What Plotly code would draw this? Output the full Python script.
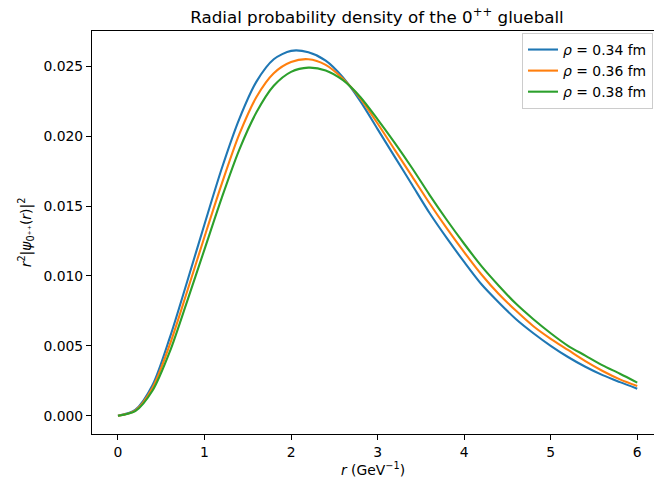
import plotly.graph_objects as go

r_values = [0.0, 0.2, 0.4, 0.6, 0.8, 1.0, 1.2, 1.4, 1.6, 1.8, 2.0, 2.2, 2.4, 2.6, 2.8, 3.0,
            3.2, 3.4, 3.6, 3.8, 4.0, 4.2, 4.4, 4.6, 4.8, 5.0, 5.2, 5.4, 5.6, 5.8, 6.0]

density_034 = [0.0, 0.00042, 0.0022, 0.0056, 0.0096, 0.0137, 0.0177, 0.0212, 0.0239, 0.0255,
               0.0261, 0.0260, 0.0254, 0.0242, 0.0225, 0.0205, 0.0185, 0.0165, 0.0145, 0.0127,
               0.0110, 0.0094, 0.0081, 0.0069, 0.0059, 0.0050, 0.0042, 0.0035, 0.0029, 0.0024,
               0.00193]
density_036 = [0.0, 0.00037, 0.0020, 0.0051, 0.0089, 0.0128, 0.0166, 0.0201, 0.0228, 0.0245,
               0.0253, 0.0255, 0.0251, 0.0241, 0.0227, 0.0209, 0.0190, 0.0171, 0.0152, 0.0134,
               0.0117, 0.0101, 0.0087, 0.0075, 0.0064, 0.0055, 0.0047, 0.0039, 0.0032, 0.0026,
               0.00213]
density_038 = [0.0, 0.00032, 0.0018, 0.0046, 0.0082, 0.0119, 0.0156, 0.0190, 0.0217, 0.0236,
               0.0246, 0.0249, 0.0247, 0.0240, 0.0228, 0.0212, 0.0195, 0.0177, 0.0158, 0.0140,
               0.0123, 0.0107, 0.0093, 0.0080, 0.0069, 0.0059, 0.0050, 0.0043, 0.0036, 0.0030,
               0.00237]

series_labels = ["<i>ρ</i> = 0.34 fm", "<i>ρ</i> = 0.36 fm", "<i>ρ</i> = 0.38 fm"]
series_values = [density_034, density_036, density_038]
series_colors = ["#1f77b4", "#ff7f0e", "#2ca02c"]

x_ticks = [0, 1, 2, 3, 4, 5, 6]
y_ticks = [0.000, 0.005, 0.010, 0.015, 0.020, 0.025]

FONT = "DejaVu Sans"

fig = go.Figure()
for label, vals, color in zip(series_labels, series_values, series_colors):
    fig.add_trace(go.Scatter(
        x=r_values, y=vals, mode="lines", name=label,
        line=dict(color=color, width=2.1, shape="spline", smoothing=0.8),
    ))

W, H = 654, 482
ml, mr, mt, mb = 92, 0, 31, 48
x_left, x_right = -0.3, (654 - 117.2) / 86.67

fig.update_layout(
    width=W, height=H,
    margin=dict(l=ml, r=mr, t=mt, b=mb, pad=0),
    paper_bgcolor="white", plot_bgcolor="white",
    font=dict(family=FONT, size=13.9, color="black"),
    title=dict(
        text="Radial probability density of the 0<sup>++</sup> glueball",
        x=377 / W, xanchor="center", xref="container",
        y=1 - 17 / H, yanchor="middle", yref="container",
        font=dict(family=FONT, size=16.7, color="black"),
    ),
    showlegend=True,
    legend=dict(
        x=(653 - ml) / (W - ml - mr), xanchor="right",
        y=1 - 2 / (H - mt - mb), yanchor="top",
        bgcolor="white", bordercolor="#cccccc", borderwidth=1,
        font=dict(family=FONT, size=13.9, color="black"),
        tracegroupgap=0,
    ),
    xaxis=dict(
        range=[x_left, x_right], tickvals=x_ticks, ticktext=[str(t) for t in x_ticks],
        showgrid=False, zeroline=False,
        showline=True, linecolor="black", linewidth=1, mirror=True,
        ticks="outside", ticklen=5, tickwidth=1, tickcolor="black",
        title=dict(text="<i>r</i> (GeV<sup>−1</sup>)", standoff=6,
                   font=dict(family=FONT, size=13.9)),
    ),
    yaxis=dict(
        range=[-0.00131, 0.02752], tickvals=y_ticks,
        ticktext=[f"{t:.3f}" for t in y_ticks],
        showgrid=False, zeroline=False,
        showline=True, linecolor="black", linewidth=1, mirror=False,
        ticks="outside", ticklen=5, tickwidth=1, tickcolor="black",
        title=dict(text="<i>r</i><sup>2</sup>|<i>ψ</i><sub>0⁺⁺</sub>(<i>r</i>)|<sup>2</sup>",
                   standoff=8, font=dict(family=FONT, size=13.9)),
    ),
)

fig.write_html("out.html")
